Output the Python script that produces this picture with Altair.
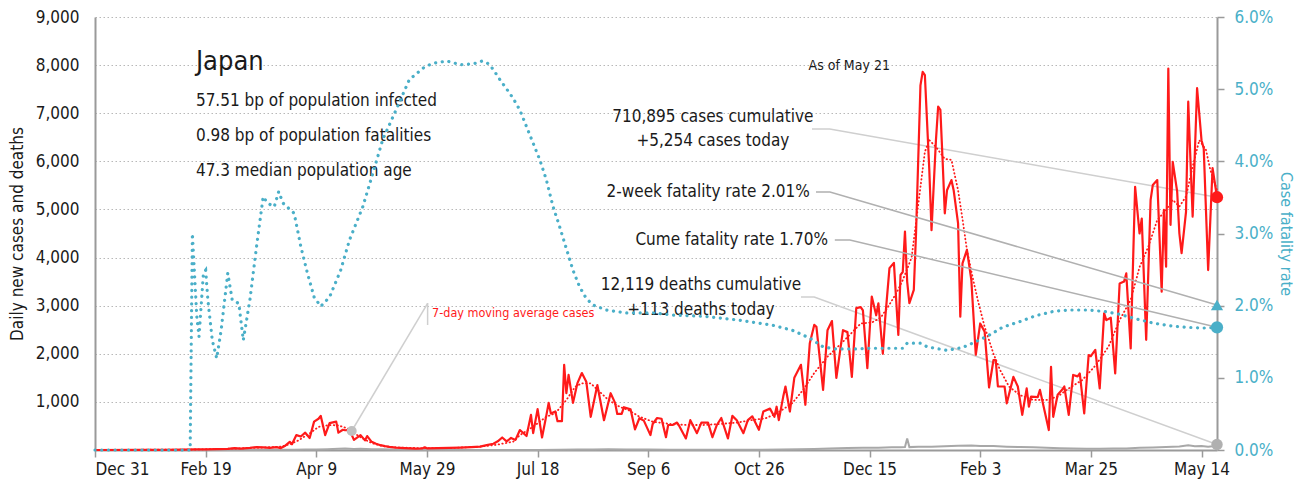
import altair as alt
import pandas as pd

FONT = "Liberation Sans Narrow, DejaVu Sans Condensed, Roboto, sans-serif"
RED = "#ff1a1a"
TEAL = "#4aafc8"
DARK = "#1a1a1a"

# ---- x axis: days since 2019-12-31 ----
tick_days = [0, 50, 100, 150, 200, 250, 300, 350, 400, 450, 500]
tick_labels = ["Dec 31", "Feb 19", "Apr 9", "May 29", "Jul 18", "Sep 6",
               "Oct 26", "Dec 15", "Feb 3", "Mar 25", "May 14"]
last_day = 507  # May 21, 2021

# ---- daily new cases ----
case_days = [0, 20, 30, 40, 45, 50, 55, 60, 63, 66, 70, 73, 76, 79, 82, 84, 86, 88, 89, 91,
             93, 95, 97, 99, 101, 102, 104, 106, 108, 109, 110, 112, 113, 115, 117, 120, 122,
             123, 125, 127, 129, 131, 133, 136, 140, 145, 148, 149, 150, 155, 160, 165, 170,
             174, 177, 180, 182, 184, 186, 188, 190, 192, 195, 197, 198, 200, 202, 204, 205,
             206, 208, 209, 211, 212, 213, 214, 216, 218, 220, 222, 224, 227, 230, 233, 235,
             236, 238, 239, 242, 244, 246, 248, 251, 252, 254, 256, 258, 259, 261, 263, 264,
             267, 269, 272, 274, 277, 279, 281, 283, 286, 288, 290, 293, 295, 297, 300, 302,
             305, 307, 308, 309, 311, 312, 314, 316, 319, 321, 323, 325, 326, 329, 331, 333,
             335, 338, 340, 342, 344, 346, 347, 349, 351, 353, 354, 356, 357, 359, 361, 363,
             364, 365, 366, 367, 368, 370, 371, 373, 374, 375, 377, 378, 380, 381, 382, 383,
             384, 385, 387, 388, 390, 391, 392, 394, 396, 398, 400, 402, 404, 406, 407, 408,
             411, 412, 415, 417, 419, 421, 422, 423, 426, 427, 429, 431, 432, 433, 435, 437,
             438, 440, 442, 444, 445, 447, 449, 450, 452, 454, 456, 457, 459, 461, 463, 465,
             466, 468, 470, 472, 473, 475, 477, 478, 480, 482, 483, 484, 485, 486, 487, 489,
             490, 491, 493, 494, 495, 496, 498, 500, 501, 503, 505, 507]
case_values = [0, 1, 3, 8, 12, 15, 20, 25, 40, 30, 45, 60, 55, 45, 60, 40, 90, 170, 120, 310,
               280, 360, 250, 590, 650, 710, 310, 560, 580, 590, 360, 420, 410, 420, 210, 310, 200,
               290, 170, 130, 100, 80, 65, 50, 40, 30, 35, 55, 35, 40, 45, 50, 60,
               70, 100, 130, 180, 260, 180, 250, 210, 415, 290, 730, 350, 850, 260, 730, 980,
               760, 800, 600, 600, 1770, 1180, 1560, 980, 1390, 1600, 1420, 690, 1350, 620, 1180, 980,
               750, 750, 890, 845, 430, 660, 610, 310, 540, 665, 650, 265, 520, 520, 570, 500,
               240, 620, 350, 570, 570, 265, 520, 665, 240, 710, 620, 350, 620, 700, 420, 800,
               860, 690, 900, 620, 1110, 1320, 800, 1500, 1770, 940, 2220, 2600, 2560, 1250, 2490, 2680,
               1500, 2490, 2450, 1520, 2950, 2970, 2900, 1700, 3190, 2800, 3050, 2000, 2700, 3780, 3890, 2390,
               3640, 3700, 4540, 3500, 3050, 3330, 4500, 7580, 7860, 7790, 5820, 4570, 6440, 7140, 7070, 6030,
               4920, 5400, 5610, 5400, 4710, 2770, 3880, 4160, 3530, 1980, 2630, 2460, 1300, 1870, 1870, 1320,
               1320, 970, 1520, 1320, 730, 1280, 900, 1110, 1100, 1250, 830, 415, 1730, 690, 1150, 1250,
               1320, 730, 1560, 1530, 1590, 760, 1975, 1950, 2080, 1280, 2840, 2700, 2750, 1590, 3460, 3500,
               3670, 2110, 5470, 4500, 4810, 2290, 5200, 5510, 5610, 3290, 4990, 3810, 7930, 4680, 5990, 5370,
               4500, 4090, 4950, 7240, 6030, 4850, 7520, 6440, 6270, 3740, 5860, 5254]

# ---- 7-day moving average of cases ----
ma_days = [0, 45, 60, 75, 84, 88, 92, 97, 101, 106, 110, 114, 117, 121, 125, 130, 135, 145, 160,
           174, 181, 189, 192, 198, 204, 208, 213, 217, 220, 224, 228, 232, 237, 241, 246, 252,
           260, 267, 275, 282, 290, 297, 303, 308, 315, 320, 325, 331, 338, 346, 351, 355, 358,
           362, 365, 369, 372, 375, 377, 380, 384, 387, 390, 392, 394, 397, 399, 402, 406, 409,
           413, 418, 424, 430, 435, 440, 446, 452, 458, 463, 468, 472, 476, 480, 484, 487, 490,
           493, 496, 499, 502, 504, 507]
ma_values = [0, 10, 25, 50, 70, 120, 200, 346, 480, 520, 510, 450, 350, 240, 145, 80, 55, 40, 40,
             70, 105, 173, 310, 485, 693, 762, 1040, 1316, 1386, 1386, 1212, 1040, 900, 831, 693, 589,
             540, 520, 520, 540, 568, 624, 658, 760, 970, 1250, 1600, 1940, 2250, 2630, 2650, 2750, 2950,
             3250, 3530, 4000, 5100, 6200, 6440, 6300, 6050, 6030, 5400, 4800, 4160, 3500, 3100, 2560, 2000, 1660,
             1320, 1140, 1040, 1040, 1110, 1280, 1450, 1750, 2150, 2700, 3120, 3800, 4230, 4780, 4990, 5200, 5060,
             5270, 5890, 6440, 6240, 5820, 5400]

# ---- daily deaths ----
death_days = [0, 43, 50, 60, 70, 80, 90, 95, 100, 105, 110, 113, 117, 120, 125, 130, 135, 140, 150,
              170, 190, 200, 210, 218, 225, 232, 240, 250, 260, 270, 280, 290, 300, 310, 318, 325,
              332, 340, 347, 354, 360, 364, 366, 367, 368, 372, 378, 384, 390, 396, 400, 406, 412,
              418, 424, 430, 436, 442, 448, 454, 460, 466, 472, 478, 484, 490, 494, 497, 500, 503,
              505, 507]
death_values = [0, 0, 1, 1, 2, 3, 5, 10, 12, 18, 25, 30, 20, 28, 18, 15, 10, 6, 3,
                1, 1, 2, 3, 8, 12, 14, 12, 9, 7, 6, 6, 5, 7, 10, 15, 22,
                30, 40, 45, 48, 55, 55, 60, 240, 60, 65, 70, 80, 90, 95, 85, 85, 70,
                60, 55, 45, 35, 30, 25, 25, 30, 30, 45, 50, 60, 75, 100, 80, 85, 70,
                80, 113]

# ---- case fatality rate, % ----
cfr_days = [0, 43, 44, 46, 47, 49, 50, 51, 53, 55, 57, 60, 62, 65, 67, 70, 73, 76, 78, 81, 83,
            85, 90, 93, 96, 99, 102, 106, 111, 115, 121, 126, 130, 136, 142, 149, 153, 159, 165,
            171, 175, 178, 180, 183, 187, 189, 192, 195, 198, 201, 204, 207, 210, 213, 216, 219,
            222, 225, 231, 240, 252, 261, 276, 291, 306, 315, 323, 329, 334, 344, 350, 358, 365,
            367, 373, 376, 385, 392, 398, 404, 410, 418, 425, 433, 440, 448, 456, 463, 470, 478,
            486, 493, 501, 507]
cfr_values = [0, 0, 3.0, 1.85, 1.57, 2.45, 2.49, 2.08, 1.52, 1.27, 1.66, 2.45, 2.08, 2.03, 1.52,
              2.08, 2.82, 3.51, 3.42, 3.37, 3.58, 3.42, 3.28, 2.82, 2.45, 2.12, 1.99, 2.12, 2.49,
              2.91, 3.37, 3.88, 4.30, 4.71, 5.13, 5.31, 5.36, 5.39, 5.34, 5.35, 5.39, 5.35, 5.27,
              5.13, 4.96, 4.87, 4.71, 4.48, 4.25, 4.02, 3.74, 3.37, 3.09, 2.79, 2.49, 2.26, 2.10,
              2.01, 1.94, 1.90, 1.90, 1.87, 1.85, 1.80, 1.73, 1.66, 1.55, 1.43, 1.40, 1.40, 1.41,
              1.41, 1.41, 1.48, 1.48, 1.43, 1.38, 1.42, 1.50, 1.59, 1.70, 1.78, 1.86, 1.92, 1.94,
              1.94, 1.92, 1.88, 1.82, 1.76, 1.72, 1.70, 1.69, 1.70]

# ---- latest values ----
cases_today = 5254
deaths_today = 113
two_week_rate = 2.01
cume_rate = 1.70

# ---- annotation texts ----
title_text = "Japan"
stats_lines = ["57.51 bp of population infected", "0.98 bp of population fatalities",
               "47.3 median population age"]
asof_text = "As of May 21"
cases_lines = ["710,895 cases cumulative", "+5,254 cases today"]
deaths_lines = ["12,119 deaths cumulative", "+113 deaths today"]
two_week_text = "2-week fatality rate 2.01%"
cume_text = "Cume fatality rate 1.70%"
ma_label = "7-day moving average cases"

# ---------------------------------------------------------------
xscale = alt.Scale(domain=[0, last_day], nice=False, zero=False)
yl_scale = alt.Scale(domain=[0, 9000], nice=False)
yr_scale = alt.Scale(domain=[0, 6], nice=False)

label_expr = "[" + ",".join("'%s'" % l for l in tick_labels) + "][round(datum.value/50)]"

x_axis = alt.Axis(values=tick_days, labelExpr=label_expr, grid=False, title=None,
                  domainColor="#9a9a9a", domainWidth=2, tickColor="#9a9a9a", tickWidth=1.5,
                  tickSize=7, labelFontSize=17, labelColor=DARK, labelPadding=4,
                  labelFont=FONT)
yl_axis = alt.Axis(values=list(range(1000, 9001, 1000)),
                   labelExpr="format(datum.value, ',')", grid=True,
                   gridDash=[1.5, 2.5], gridColor="#b8b8b8", gridWidth=1, ticks=False,
                   domainColor="#9a9a9a", domainWidth=2, labelFontSize=17, labelColor=DARK,
                   labelPadding=16, labelFont=FONT, title="Daily new cases and deaths",
                   titleFont=FONT, titleFontSize=17, titleFontWeight="normal",
                   titleColor=DARK, titlePadding=9)
yr_axis = alt.Axis(orient="right", values=[0, 1, 2, 3, 4, 5, 6],
                   labelExpr="format(datum.value, '.1f') + '%'", grid=False,
                   domainColor="#9a9a9a", domainWidth=2, tickColor="#9a9a9a", tickWidth=1.5,
                   tickSize=7, labelFontSize=17, labelColor=TEAL, labelPadding=10,
                   labelFont=FONT, title="Case fatality rate", titleFont=FONT,
                   titleFontSize=16, titleFontWeight="normal", titleColor=TEAL,
                   titlePadding=5)

X = alt.X("day:Q", scale=xscale, axis=x_axis)
YL = alt.Y("value:Q", scale=yl_scale, axis=yl_axis)
YR = alt.Y("value:Q", scale=yr_scale, axis=yr_axis)

df_cases = pd.DataFrame({"day": case_days, "value": case_values})
df_ma = pd.DataFrame({"day": ma_days, "value": ma_values})
df_deaths = pd.DataFrame({"day": death_days, "value": death_values})
df_cfr = pd.DataFrame({"day": cfr_days, "value": cfr_values})

deaths_line = alt.Chart(df_deaths).mark_line(color="#a8a8a8", strokeWidth=2).encode(x=X, y=YL)
ma_line = alt.Chart(df_ma).mark_line(color=RED, strokeWidth=1.8, strokeDash=[0.5, 3.2],
                                     strokeCap="round").encode(x=X, y=YL)
cases_line = alt.Chart(df_cases).mark_line(color=RED, strokeWidth=2.2,
                                           strokeJoin="round").encode(x=X, y=YL)

# connectors (left scale)
light_conn = pd.DataFrame({
    "id": ["c", "c", "c", "d", "d", "d", "m", "m", "v", "v"],
    "ord": [0, 1, 2, 0, 1, 2, 0, 1, 0, 1],
    "day": [324, 332, last_day, 319, 325, last_day, 116, 150.3, 150.3, 150.3],
    "value": [6672, 6672, cases_today, 3180, 3180, deaths_today, 395, 3050, 3055, 2598],
})
light_lines = alt.Chart(light_conn).mark_line(color="#cfcfcf", strokeWidth=1.5).encode(
    x=X, y=YL, detail="id:N", order="ord:Q")

# connectors (right scale)
dark_conn = pd.DataFrame({
    "id": ["t", "t", "t", "u", "u", "u"],
    "ord": [0, 1, 2, 0, 1, 2],
    "day": [325.8, 332.1, last_day, 334.3, 341.1, last_day],
    "value": [3.575, 3.575, two_week_rate, 2.91, 2.91, cume_rate],
})
dark_lines = alt.Chart(dark_conn).mark_line(color="#b0b0b0", strokeWidth=1.5).encode(
    x=X, y=YR, detail="id:N", order="ord:Q")

def point(day, value, color, shape, size, y):
    return alt.Chart(pd.DataFrame({"day": [day], "value": [value]})).mark_point(
        filled=True, shape=shape, size=size, color=color, opacity=1).encode(x=X, y=y)

red_dot = point(last_day, cases_today, RED, "circle", 150, YL)
gray_dot = point(last_day, deaths_today, "#b0b0b0", "circle", 130, YL)
ma_dot = point(116, 395, "#c0c0c0", "circle", 100, YL)

def text(lines, days, values, size, color=DARK, align="left", weight="normal"):
    df = pd.DataFrame({"day": days, "value": values, "t": lines})
    return alt.Chart(df).mark_text(align=align, baseline="middle", font=FONT, fontSize=size,
                                   color=color, fontWeight=weight).encode(
        x=X, y=YL, text="t:N")

t_title = text([title_text], [45.6], [8065], 27)
t_stats = text(stats_lines, [45.6] * 3, [7254, 6526, 5799], 17)
t_asof = text([asof_text], [359.2], [7981], 14, align="right")
t_cases = text(cases_lines, [279.2] * 2, [6921, 6423], 17, align="center")
t_deaths = text(deaths_lines, [273.8] * 2, [3430, 2910], 17, align="center")
t_two = text([two_week_text], [323.0], [5363], 17, align="right")
t_cume = text([cume_text], [331.2], [4365], 17, align="right")
t_ma = text([ma_label], [152.3], [2848], 12.5, color=RED)

left = alt.layer(deaths_line, light_lines, ma_line, cases_line, red_dot, gray_dot, ma_dot,
                 t_title, t_stats, t_asof, t_cases, t_deaths, t_two, t_cume, t_ma)

cfr_line = alt.Chart(df_cfr).mark_line(color=TEAL, strokeWidth=3.2, strokeDash=[0.1, 6.6],
                                       strokeCap="round").encode(x=X, y=YR)
teal_tri = point(last_day, two_week_rate, TEAL, "triangle-up", 150, YR)
teal_dot = point(last_day, cume_rate, TEAL, "circle", 150, YR)

right = alt.layer(cfr_line, dark_lines, teal_tri, teal_dot)

chart = alt.layer(left, right).resolve_scale(y="independent").properties(
    width=1122, height=433,
    autosize=alt.AutoSizeParams(type="none"),
    padding={"left": 87, "top": 9, "right": 82, "bottom": 31},
).configure_view(stroke=None)

chart.save("out.html", embed_options={"renderer": "svg", "actions": False})
